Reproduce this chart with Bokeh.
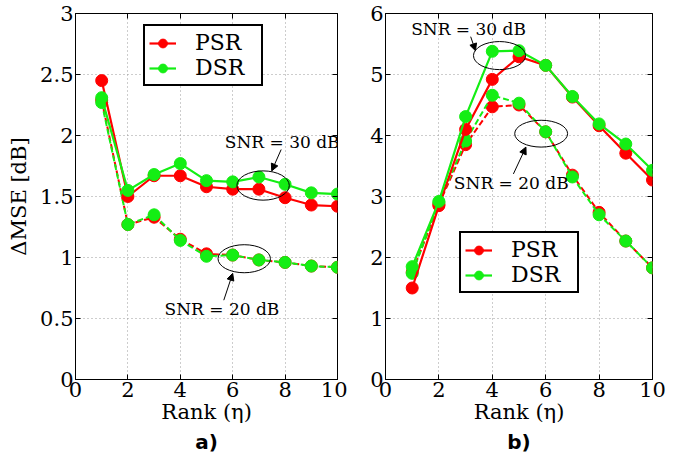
from bokeh.plotting import figure
from bokeh.layouts import row
from bokeh.models import (FixedTicker, LinearAxis, Title, Arrow, NormalHead,
                          Legend, LegendItem, Range1d)
from bokeh.core.properties import value
from bokeh.embed import file_html
from bokeh.resources import INLINE

# ---------------- data ----------------
rank = [1, 2, 3, 4, 5, 6, 7, 8, 9, 10]

# panel a)
a_psr_30 = [2.45, 1.50, 1.67, 1.67, 1.58, 1.56, 1.56, 1.49, 1.43, 1.42]
a_dsr_30 = [2.31, 1.55, 1.68, 1.77, 1.63, 1.62, 1.66, 1.60, 1.53, 1.52]
a_psr_20 = [2.29, 1.27, 1.33, 1.15, 1.03, 1.02, 0.98, 0.96, 0.93, 0.92]
a_dsr_20 = [2.27, 1.27, 1.35, 1.14, 1.01, 1.02, 0.98, 0.96, 0.93, 0.92]

# panel b)
b_psr_30 = [1.50, 2.85, 4.10, 4.92, 5.29, 5.15, 4.63, 4.16, 3.71, 3.27]
b_dsr_30 = [1.85, 2.92, 4.31, 5.38, 5.39, 5.15, 4.64, 4.19, 3.86, 3.43]
b_psr_20 = [1.76, 2.87, 3.85, 4.47, 4.50, 4.06, 3.35, 2.74, 2.27, 1.83]
b_dsr_20 = [1.74, 2.90, 3.91, 4.66, 4.53, 4.06, 3.32, 2.70, 2.27, 1.83]

x_ticks = [0, 2, 4, 6, 8, 10]
a_y_ticks = [0, 0.5, 1, 1.5, 2, 2.5, 3]
a_y_tick_labels = ["0", "0.5", "1", "1.5", "2", "2.5", "3"]
b_y_ticks = [0, 1, 2, 3, 4, 5, 6]
b_y_tick_labels = ["0", "1", "2", "3", "4", "5", "6"]

series_names = ["PSR", "DSR"]
x_label = "Rank (η)"
y_label = "ΔMSE [dB]"
panel_labels = ["a)", "b)"]
snr_labels = ["SNR = 30 dB", "SNR = 20 dB"]

# annotation anchors (data coordinates): ellipse centre/size, text, arrow
a_ell = dict(x=[7.16, 6.44], y=[1.59, 0.99], w=[2.0, 2.0], h=[0.24, 0.23])
a_txt = dict(x=[7.89, 5.59], y=[1.95, 0.58])
a_arr = [(7.85, 1.885, 7.49, 1.71), (5.66, 0.65, 6.0, 0.87)]
b_ell = dict(x=[4.27, 5.83], y=[5.31, 4.03], w=[1.95, 1.98], h=[0.46, 0.44])
b_txt = dict(x=[3.11, 4.71], y=[5.75, 3.22])
b_arr = [(3.19, 5.62, 3.37, 5.39), (4.79, 3.37, 5.26, 3.81)]

RED = "#FF0000"
GREEN = "#14EE14"
SERIF = "DejaVu Serif"


def make_panel(width, mb_left, mb_right, y_end, y_ticks, y_labels, ylab,
               psr30, dsr30, psr20, dsr20, ell, txt, arrows, panel_label,
               legend_loc):
    p = figure(width=width, height=460, output_backend="svg",
               toolbar_location=None,
               x_range=Range1d(0, 10), y_range=Range1d(0, y_end),
               min_border_left=mb_left, min_border_right=mb_right,
               min_border_top=13, min_border_bottom=81,
               background_fill_color="white", border_fill_color="white")
    p.outline_line_color = "black"
    p.outline_line_width = 1
    p.outline_line_alpha = 1

    # axes
    p.xaxis.ticker = FixedTicker(ticks=x_ticks)
    p.yaxis.ticker = FixedTicker(ticks=y_ticks)
    p.yaxis.major_label_overrides = {t: l for t, l in zip(y_ticks, y_labels)}
    for ax in (p.xaxis[0], p.yaxis[0]):
        ax.major_tick_in = 5
        ax.major_tick_out = 0
        ax.minor_tick_line_color = None
        ax.axis_line_color = "black"
        ax.major_tick_line_color = "black"
        ax.major_label_text_font = SERIF
        ax.major_label_text_font_size = "21px"
        ax.major_label_text_color = "black"
        ax.major_label_standoff = 2
        ax.axis_label_text_font = SERIF
        ax.axis_label_text_font_size = "21px"
        ax.axis_label_text_font_style = "normal"
        ax.axis_label_text_color = "black"
        ax.axis_label_standoff = 0
    p.xaxis.axis_label = x_label
    if ylab:
        p.yaxis.axis_label = ylab
        p.yaxis.axis_label_standoff = 6

    # mirrored ticks on top / right (no labels)
    for loc, tk in (("above", x_ticks), ("right", y_ticks)):
        ax = LinearAxis(ticker=FixedTicker(ticks=tk), major_tick_in=5,
                        major_tick_out=0, minor_tick_line_color=None,
                        major_label_overrides={t: "" for t in tk},
                        major_label_text_font_size="1px",
                        major_label_standoff=0, axis_line_color=None)
        p.add_layout(ax, loc)

    # grid
    p.grid.grid_line_color = "#9a9a9a"
    p.grid.grid_line_dash = "1 3"
    p.grid.grid_line_width = 1
    p.xgrid.ticker = FixedTicker(ticks=x_ticks)
    p.ygrid.ticker = FixedTicker(ticks=y_ticks)

    # series (dashed 20 dB first, then solid 30 dB)
    p.line(rank, psr20, line_color=RED, line_width=2, line_dash="6 3")
    p.scatter(rank, psr20, size=12, fill_color=RED, line_color=RED)
    p.line(rank, dsr20, line_color=GREEN, line_width=2, line_dash="6 3")
    p.scatter(rank, dsr20, size=12, fill_color=GREEN, line_color=GREEN)
    r_l1 = p.line(rank, psr30, line_color=RED, line_width=2.2)
    r_s1 = p.scatter(rank, psr30, size=12, fill_color=RED, line_color=RED)
    r_l2 = p.line(rank, dsr30, line_color=GREEN, line_width=2.2)
    r_s2 = p.scatter(rank, dsr30, size=12, fill_color=GREEN, line_color=GREEN)

    # annotations
    p.ellipse(ell["x"], ell["y"], width=ell["w"], height=ell["h"],
              fill_color=None, line_color="black", line_width=1)
    p.text(txt["x"], txt["y"], text=snr_labels, text_font=value(SERIF),
           text_font_size="17px", text_align="center",
           text_baseline="middle", text_color="black")
    for (x0, y0, x1, y1) in arrows:
        p.add_layout(Arrow(end=NormalHead(size=7, fill_color="black",
                                          line_color="black"),
                           x_start=x0, y_start=y0, x_end=x1, y_end=y1,
                           line_color="black", line_width=1))

    legend = Legend(items=[LegendItem(label=series_names[0], renderers=[r_l1, r_s1]),
                           LegendItem(label=series_names[1], renderers=[r_l2, r_s2])],
                    location=legend_loc,
                    label_text_font=SERIF, label_text_font_size="22px",
                    label_text_color="black",
                    label_standoff=19, glyph_width=27, glyph_height=22,
                    label_height=22, label_width=62, spacing=0, padding=4,
                    margin=0, border_line_color="black", border_line_width=2,
                    border_line_alpha=1,
                    background_fill_color="white", background_fill_alpha=1)
    p.add_layout(legend)

    t = Title(text=panel_label, align="center", text_font="DejaVu Sans",
              text_font_size="20px", text_font_style="bold",
              text_color="black", standoff=2)
    p.add_layout(t, "below")
    return p


pa = make_panel(347, 75, 10, 3, a_y_ticks, a_y_tick_labels, y_label,
                a_psr_30, a_dsr_30, a_psr_20, a_dsr_20,
                a_ell, a_txt, a_arr, panel_labels[0], (68, 293))
pb = make_panel(319, 38, 14, 6, b_y_ticks, b_y_tick_labels, None,
                b_psr_30, b_dsr_30, b_psr_20, b_dsr_20,
                b_ell, b_txt, b_arr, panel_labels[1], (74, 86))

layout = row(pa, pb)
open("out.html", "w").write(file_html(layout, INLINE))
